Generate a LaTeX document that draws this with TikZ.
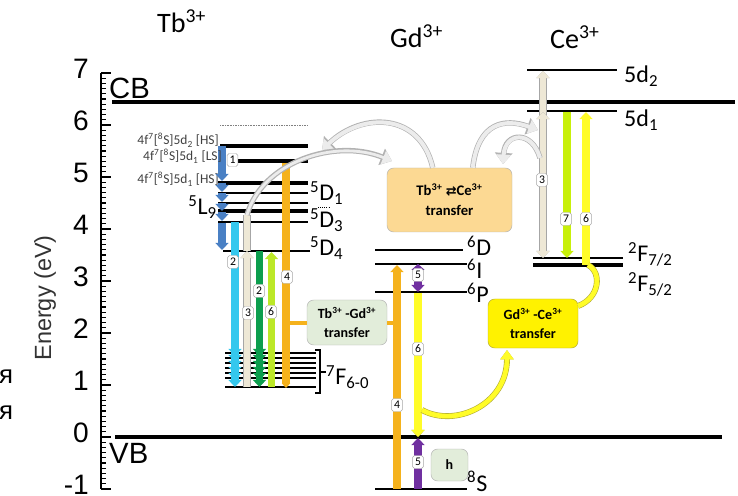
\documentclass[tikz,border=0pt]{standalone}
\usepackage{fontspec}
\setmainfont{Liberation Sans}
\newfontfamily\calibri{Carlito}
\newfontfamily\dejavu{DejaVu Sans}
\usetikzlibrary{arrows.meta}

\definecolor{tbblue}{RGB}{74,128,196}
\definecolor{tbcyan}{RGB}{52,200,238}
\definecolor{beigefill}{RGB}{238,232,214}
\definecolor{tbgreen}{RGB}{12,158,78}
\definecolor{tbygreen}{RGB}{188,232,40}
\definecolor{tborange}{RGB}{245,178,28}
\definecolor{gdpurple}{RGB}{112,48,160}
\definecolor{gdyellow}{RGB}{255,252,40}
\definecolor{ceygreen}{RGB}{200,240,10}
\definecolor{tbcebox}{RGB}{252,217,147}
\definecolor{greenbox}{RGB}{226,237,218}

\newcommand\lvlfont{\calibri\fontsize{20.5}{20.5}\selectfont}
\newcommand\smallfont{\calibri\fontsize{11.5}{11.5}\selectfont}

\tikzset{
  band/.style={line width=3.4pt},
  lvl/.style={line width=1.6pt},
  lvlthick/.style={line width=3.4pt},
  tip/.style={-{Triangle[length=6pt,width=11pt]}},
  trans/.style={line width=6pt, tip},
  beigebar/.style={draw=beigefill, line width=5pt,
    preaction={draw=gray!70, line width=6.2pt}},
  yellowbar/.style={draw=gdyellow, line width=6pt,
    preaction={draw=olive!80, line width=7.2pt}},
  numbox/.style={draw=gray!70, fill=white, rounded corners=1.5pt, inner sep=1pt,
    minimum width=3.2mm, minimum height=3.9mm, font=\calibri\fontsize{10}{10}\selectfont},
  xferbox/.style={draw=gray!60, rounded corners=2mm, align=center, inner sep=0pt,
    font=\calibri\bfseries\fontsize{12}{16.5}\selectfont},
  lvllabel/.style={font=\lvlfont, anchor=base west, inner sep=0pt},
  statelabel/.style={font=\smallfont, text=black!75, anchor=base east, inner sep=0pt},
  flow/.style={draw=gray!15, line width=3.4pt, -{Triangle[length=8pt,width=12pt]},
    preaction={draw=gray!60, line width=4.6pt, -{Triangle[length=9.5pt,width=14.5pt]}}},
  yflow/.style={draw=gdyellow, line width=4pt,
    preaction={draw=olive!70, line width=5pt}}
}

\begin{document}
\begin{tikzpicture}[x=0.3mm, y=-0.3mm]
\useasboundingbox (0,0) rectangle (738,496);

% energy axis
\draw[line width=1.6pt] (101,73) -- (101,489);
\foreach \i in {0,...,80}{
  \pgfmathtruncatemacro\ismaj{mod(\i,10)==0 ? 1 : 0}
  \ifnum\ismaj=1
    \draw[line width=1.4pt] (101,489-5.2*\i) -- ++(10,0);
  \else
    \draw[line width=1pt] (101,489-5.2*\i) -- ++(5,0);
  \fi
}
\foreach \v [count=\k] in {-1,...,7}
  \node[anchor=east, font=\fontsize{24}{24}\selectfont, inner sep=0pt] (tick\k) at (89,433-52*\v) {\v};
\node[rotate=90, text=black!80, font=\fontsize{20}{20}\selectfont] (elabel) at (45,298) {Energy (eV)};
\node[anchor=west, inner sep=0pt, font=\fontsize{22}{22}\selectfont] (ya) at (-1,377) {я};
\node[anchor=west, inner sep=0pt, font=\fontsize{22}{22}\selectfont] (yb) at (-1,413) {я};

% bands
\draw[band] (112,102) -- (735,102);
\draw[band] (115,437) -- (722,437);
\node[anchor=base west, inner sep=0pt, font=\fontsize{25}{25}\selectfont] (cb) at (109,99) {CB};
\node[anchor=base west, inner sep=0pt, font=\fontsize{25}{25}\selectfont] (vb) at (109,463) {VB};

% ion titles
\node[anchor=base west, inner sep=0pt, font=\calibri\fontsize{24}{24}\selectfont] (tb) at (157,33) {Tb\textsuperscript{3+}};
\node[anchor=base west, inner sep=0pt, font=\calibri\fontsize{24}{24}\selectfont] (gd) at (390,48) {Gd\textsuperscript{3+}};
\node[anchor=base west, inner sep=0pt, font=\calibri\fontsize{24}{24}\selectfont] (ce) at (550,49) {Ce\textsuperscript{3+}};

% Tb levels
\draw[densely dotted, gray] (220,125) -- (308,125);
\draw[lvlthick] (220,146) -- (308,146);
\draw[lvlthick] (238,161) -- (308,161);
\draw[lvlthick] (218,183) -- (308,183);
\draw[lvl] (218,193) -- (308,193);
\draw[line width=2.2pt] (218,203) -- (308,203);
\draw[lvlthick] (218,211) -- (308,211);
\draw[lvl] (218,222) -- (308,222);
\draw[line width=2pt] (223,251) -- (310,251);
\foreach \yy in {353,358,363,368,373,378}
  \draw[line width=1.8pt] (225,\yy) -- (316,\yy);
\draw[line width=2.2pt] (225,387) -- (316,387);
\draw[densely dotted, line width=0.8pt] (318,207) -- (330,207);
\draw[line width=1pt] (315,350) -- (320,350) -- (320,393) -- (315,393);
\draw[line width=1pt] (320,372) -- (326,372);

\node[statelabel] (s1) at (219,145) {4f\textsuperscript{7}[\textsuperscript{8}S]5d\textsubscript{2} [HS]};
\node[statelabel] (s3) at (219,184) {4f\textsuperscript{7}[\textsuperscript{8}S]5d\textsubscript{1} [HS]};
\node[lvllabel] (d1) at (310,201) {\textsuperscript{5}D\textsubscript{1}};
\node[lvllabel] (d3) at (310,228) {\textsuperscript{5}D\textsubscript{3}};
\node[lvllabel] (d4) at (310,256) {\textsuperscript{5}D\textsubscript{4}};
\node[lvllabel, anchor=base east] (l9) at (217,215) {\textsuperscript{5}L\textsubscript{9}};
\node[lvllabel] (f7) at (326,385) {\textsuperscript{7}F\textsubscript{6-0}};

% Tb transitions
\foreach \a/\b in {146/181,183/192,193/202,203/211,212/221,223/250}
  \draw[trans, tbblue] (222,\a) -- (222,\b);
\draw[trans, tbcyan] (235,222) -- (235,387);
\draw[beigebar] (247,251) -- (247,215);
\draw[beigebar, tip] (247,387) -- (247,251);
\draw[trans, tbgreen] (259.5,251) -- (259.5,387);
\foreach \yy in {356,362,368,374,380}{
  \draw[trans, tbcyan] (235,\yy-8) -- (235,\yy);
  \draw[trans, tbgreen] (259.5,\yy-8) -- (259.5,\yy);
}
\draw[trans, tbygreen] (271.5,387) -- (271.5,252);
\draw[tborange, line width=6pt, -{Triangle[length=4pt,width=7pt]}] (286,163) -- (286,388);

\node[statelabel] (s2) at (222,161) {4f\textsuperscript{7}[\textsuperscript{8}S]5d\textsubscript{1} [LS]};
\node[numbox] (n1) at (232.5,160) {1};
\node[numbox] (n2a) at (233,262) {2};
\node[numbox] (n2b) at (259,291) {2};
\node[numbox] (n3a) at (248,313) {3};
\node[numbox] (n6a) at (271,312) {6};
\node[numbox] (n4a) at (287,277) {4};

% Gd levels
\draw[lvl] (375,250) -- (463,250);
\draw[lvl] (375,264) -- (467,264);
\draw[lvl] (375,292) -- (467,292);
\draw[lvl] (375,489) -- (467,489);
\node[lvllabel] (g6d) at (467,256) {\textsuperscript{6}D};
\node[lvllabel] (g6i) at (467,279) {\textsuperscript{6}I};
\node[lvllabel] (g6p) at (467,303) {\textsuperscript{6}P};
\node[lvllabel] (g8s) at (467,491) {\textsuperscript{8}S};

% Gd transitions
\draw[trans, tborange, line width=7pt] (397,489) -- (397,265);
\draw[trans, gdpurple] (418,489) -- (418,438);
\draw[gdpurple, line width=6pt, {Triangle[length=5pt,width=11pt]}-{Triangle[length=6pt,width=11pt]}] (418,264) -- (418,292);
\draw[yellowbar, -{Triangle[length=6pt,width=11pt]}] (418,293) -- (418,437);
\node[numbox] (n5a) at (418,275) {5};
\node[numbox] (n6b) at (418,349) {6};
\node[numbox] (n4b) at (397,405) {4};
\node[numbox] (n5b) at (418,462) {5};

% Ce levels
\draw[lvl] (527,70) -- (617,70);
\draw[lvl] (527,111) -- (617,111);
\draw[lvl] (533,258) -- (623,258);
\draw[line width=2.6pt] (533,265) -- (623,265);
\node[lvllabel] (c5d2) at (624,83) {5d\textsubscript{2}};
\node[lvllabel] (c5d1) at (624,127) {5d\textsubscript{1}};
\node[lvllabel] (c2f7) at (628,262) {\textsuperscript{2}F\textsubscript{7/2}};
\node[lvllabel] (c2f5) at (628,292) {\textsuperscript{2}F\textsubscript{5/2}};

% Ce transitions
\draw[beigebar, {Triangle[length=6pt,width=11pt]}-{Triangle[length=6pt,width=11pt]}] (543,258) -- (543,71);
\draw[beigebar, tip] (543,125) -- (543,112);
\draw[trans, ceygreen] (567,112) -- (567,258);
\draw[trans, gdyellow] (586,265) -- (586,112);
\node[numbox] (n3b) at (542,180) {3};
\node[numbox] (n7) at (566,219) {7};
\node[numbox] (n6c) at (586,219) {6};

% transfer boxes
\node[xferbox, fill=tbcebox, minimum width=37.5mm, minimum height=19.2mm,
  font=\calibri\bfseries\fontsize{12.5}{17}\selectfont] (tbce) at (449.5,200)
  {Tb\textsuperscript{3+} {\dejavu\fontsize{11}{11}\selectfont ⇄}Ce\textsuperscript{3+}\\transfer};
\node[xferbox, fill=greenbox, minimum width=24mm, minimum height=13.5mm] (tbgd) at (347,322.5)
  {Tb\textsuperscript{3+} -Gd\textsuperscript{3+}\\transfer};
\node[xferbox, fill=yellow, draw=olive!70, minimum width=27mm, minimum height=14.7mm] (gdce) at (533,323.5)
  {Gd\textsuperscript{3+} -Ce\textsuperscript{3+}\\transfer};
\node[xferbox, fill=greenbox, minimum width=11.1mm, minimum height=9.6mm, font=\calibri\bfseries\fontsize{12}{12}\selectfont] (hbox) at (449.5,465) {h};

% orange links
\draw[tborange, line width=2.6pt] (289,323) -- (tbgd.west |- 0,323);
\draw[tborange, line width=2.6pt] (tbgd.east |- 0,323) -- (393,323);

% curved transfer arrows
\draw[flow] (tbce.north west) ++(46,0) .. controls (420,112) and (362,112) .. (322,150);
\draw[flow, line width=2.4pt] (247,215) .. controls (262,162) and (335,138) .. (392,161);
\draw[flow] (tbce.north west) ++(86,0) .. controls (478,122) and (505,118) .. (538,130);
\draw[flow] (540,158) .. controls (532,130) and (505,132) .. (503,164);

% yellow flows
\draw[yflow, -{Triangle[length=8pt,width=11pt]}] (422,410) .. controls (455,428) and (507,405) .. (507,350);
\draw[yflow] (578,306) .. controls (600,298) and (602,272) .. (588,265);
\end{tikzpicture}
\end{document}
